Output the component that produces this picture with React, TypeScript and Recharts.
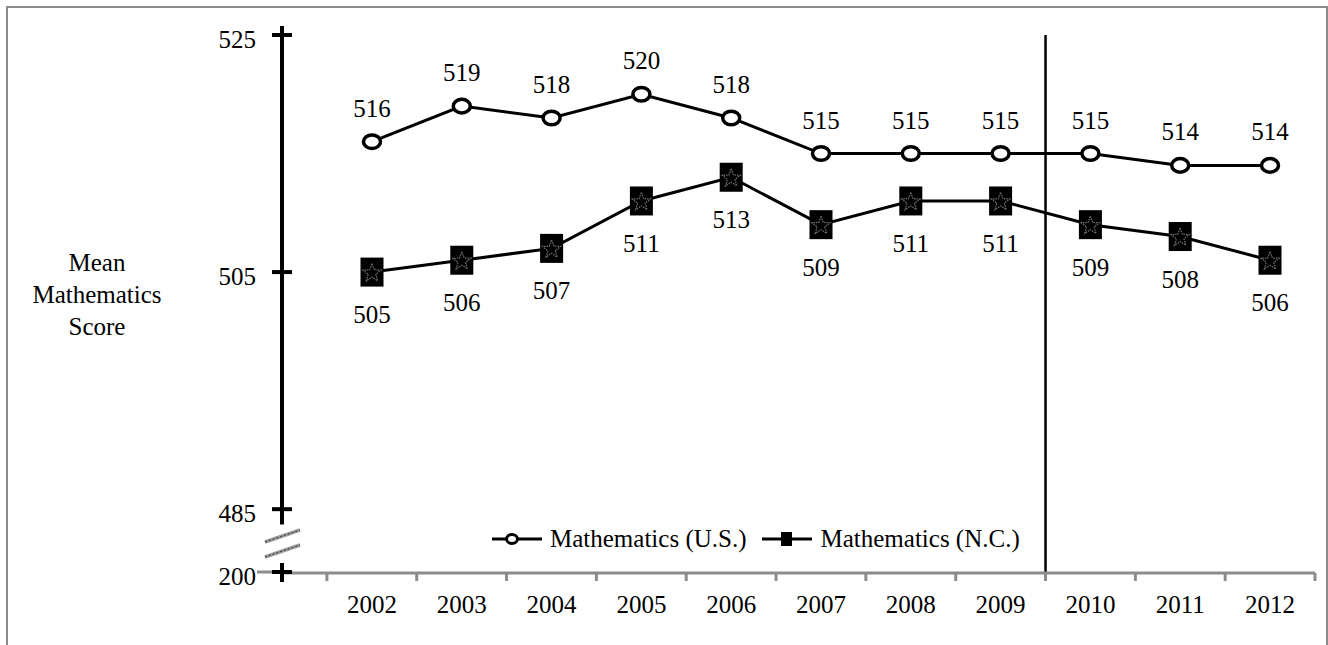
import React from 'react';
import { LineChart, Line, XAxis, YAxis, ReferenceLine, Legend, LabelList } from 'recharts';

const years = ['2002', '2003', '2004', '2005', '2006', '2007', '2008', '2009', '2010', '2011', '2012'];
const usScores = [516, 519, 518, 520, 518, 515, 515, 515, 515, 514, 514];
const ncScores = [505, 506, 507, 511, 513, 509, 511, 511, 509, 508, 506];
const seriesNames = ['Mathematics (U.S.)', 'Mathematics (N.C.)'];

// broken axis: bottom tick stands for 200
const yMin = 479.7;
const yTickValues = [525, 505, 485, yMin];
const yTickLabels = ['525', '505', '485', '200'];
const yAxisBreakEnd = 483.7;

// band edges between the year columns; the divider sits between 2009 and 2010
const bandEdges = [0, 1, 2, 3, 4, 5, 6, 7, 8, 9, 10, 11];
const dividerEdge = 8;

const rows = years.map((year, i) => ({ year, us: usScores[i], nc: ncScores[i] }));

const FONT = '"Liberation Serif", "Times New Roman", serif';
const GRAY = '#8c8c8c';

function starPath(cx: number, cy: number, outer: number, inner: number) {
  const pts: string[] = [];
  for (let i = 0; i < 10; i++) {
    const r = i % 2 === 0 ? outer : inner;
    const a = -Math.PI / 2 + (i * Math.PI) / 5;
    pts.push(`${(cx + r * Math.cos(a)).toFixed(2)},${(cy + r * Math.sin(a)).toFixed(2)}`);
  }
  return 'M' + pts.join('L') + 'Z';
}

function renderUsDot(props: any) {
  const { cx, cy, index } = props;
  return (
    <ellipse key={`us-${index}`} cx={cx} cy={cy} rx={8.5} ry={6.8} fill="#fff" stroke="#000" strokeWidth={3.5} />
  );
}

function renderNcDot(props: any) {
  const { cx, cy, index } = props;
  return (
    <g key={`nc-${index}`}>
      <rect x={cx - 11.5} y={cy - 14.5} width={23} height={29} fill="#000" />
      <path d={starPath(cx, cy + 1, 9.5, 4)} fill="none" stroke="#6e6e6e" strokeWidth={1.3} strokeDasharray="1.5 1" />
    </g>
  );
}

function renderUsLabel(props: any) {
  const { x, y, value, index } = props;
  return (
    <text key={`usl-${index}`} x={x} y={y - 25} textAnchor="middle" fontFamily={FONT} fontSize={25} fill="#000">
      {value}
    </text>
  );
}

function renderNcLabel(props: any) {
  const { x, y, value, index } = props;
  return (
    <text key={`ncl-${index}`} x={x} y={y + 51} textAnchor="middle" fontFamily={FONT} fontSize={25} fill="#000">
      {value}
    </text>
  );
}

function ScoreTick(props: any) {
  const { x, y, payload } = props;
  const idx = yTickValues.indexOf(payload.value);
  const isBreak = payload.value === yMin;
  return (
    <g>
      {isBreak && <line x1={x - 25} y1={y} x2={x} y2={y} stroke={GRAY} strokeWidth={3} />}
      {isBreak && (
        <g>
          <line x1={x - 17} y1={y - 30} x2={x + 18} y2={y - 42} stroke="#9a9a9a" strokeWidth={3.5} />
          <line x1={x - 17} y1={y - 30} x2={x + 18} y2={y - 42} stroke="#333" strokeWidth={1} strokeDasharray="2 2" />
          <line x1={x - 17} y1={y - 15} x2={x + 18} y2={y - 27} stroke="#9a9a9a" strokeWidth={3.5} />
          <line x1={x - 17} y1={y - 15} x2={x + 18} y2={y - 27} stroke="#333" strokeWidth={1} strokeDasharray="2 2" />
        </g>
      )}
      <line x1={x - 10} y1={y} x2={x + 10} y2={y} stroke="#000" strokeWidth={4} />
      <line x1={x} y1={y - 9} x2={x} y2={y + 10} stroke="#000" strokeWidth={4} />
      <text x={x - 26} y={y + 12.5} textAnchor="end" fontFamily={FONT} fontSize={25} fill="#000">
        {yTickLabels[idx]}
      </text>
    </g>
  );
}

function YearTick(props: any) {
  const { x, y, payload } = props;
  return (
    <text x={x} y={y + 41} textAnchor="middle" fontFamily={FONT} fontSize={25} fill="#000">
      {payload.value}
    </text>
  );
}

function renderLegend(props: any) {
  const items = [...(props.payload || [])].sort(
    (a: any, b: any) => seriesNames.indexOf(a.value) - seriesNames.indexOf(b.value)
  );
  return (
    <div style={{ display: 'flex', alignItems: 'center', fontFamily: FONT, fontSize: 25, color: '#000', whiteSpace: 'nowrap' }}>
      {items.map((entry: any, i: number) => (
        <div key={`lg-${i}`} style={{ display: 'flex', alignItems: 'center', marginRight: i === 0 ? 16 : 0 }}>
          <svg width={50} height={20} style={{ display: 'block' }}>
            <line x1={0} y1={10} x2={50} y2={10} stroke="#000" strokeWidth={3} />
            {entry.dataKey === 'us' ? (
              <ellipse cx={20} cy={10} rx={5.5} ry={4.5} fill="#fff" stroke="#000" strokeWidth={3} />
            ) : (
              <rect x={19} y={3} width={11} height={14} fill="#000" />
            )}
          </svg>
          <span style={{ marginLeft: 8 }}>{entry.value}</span>
        </div>
      ))}
    </div>
  );
}

export default function App() {
  return (
    <div style={{ position: 'absolute', left: 0, top: 0, width: 1328, height: 645, background: '#fff', overflow: 'hidden' }}>
      <div
        style={{
          position: 'absolute', left: 6, top: 6, width: 1322, height: 660, boxSizing: 'border-box',
          borderLeft: `2.5px solid ${GRAY}`, borderTop: `2.5px solid ${GRAY}`, borderRight: `2.5px solid ${GRAY}`,
        }}
      />
      <div
        style={{
          position: 'absolute', left: 0, top: 247, width: 194, textAlign: 'center',
          fontFamily: FONT, fontSize: 25, lineHeight: '32px', color: '#000',
        }}
      >
        Mean<br />Mathematics<br />Score
      </div>
      <div style={{ position: 'absolute', left: 0, top: 0 }}>
        <LineChart width={1328} height={645} data={rows} margin={{ top: 35, right: 13, bottom: 71, left: 0 }}>
          <XAxis
            xAxisId="grid"
            dataKey="edge"
            type="number"
            domain={[-0.5, 11]}
            allowDataOverflow
            ticks={bandEdges}
            height={1}
            axisLine={{ stroke: GRAY, strokeWidth: 3 }}
            tickLine={{ stroke: GRAY, strokeWidth: 3 }}
            tickSize={8}
            tick={() => <g />}
            interval={0}
          />
          <XAxis
            xAxisId="cat"
            dataKey="year"
            height={1}
            padding={{ left: 90, right: 45 }}
            axisLine={false}
            tickLine={false}
            tickSize={0}
            tickMargin={0}
            interval={0}
            tick={YearTick}
          />
          <YAxis
            type="number"
            width={282}
            domain={[yMin, 525]}
            allowDataOverflow
            ticks={yTickValues}
            interval={0}
            axisLine={false}
            tickLine={false}
            tickSize={0}
            tickMargin={0}
            tick={ScoreTick}
          />
          <ReferenceLine
            xAxisId="grid"
            segment={[{ x: -0.5, y: 525 }, { x: -0.5, y: yAxisBreakEnd }]}
            stroke="#000"
            strokeWidth={4}
            ifOverflow="visible"
          />
          <ReferenceLine xAxisId="grid" x={dividerEdge} stroke="#000" strokeWidth={2.5} />
          <Line
            xAxisId="cat"
            dataKey="us"
            name={seriesNames[0]}
            stroke="#000"
            strokeWidth={3}
            dot={renderUsDot}
            activeDot={false}
            isAnimationActive={false}
          >
            <LabelList dataKey="us" content={renderUsLabel} />
          </Line>
          <Line
            xAxisId="cat"
            dataKey="nc"
            name={seriesNames[1]}
            stroke="#000"
            strokeWidth={3}
            dot={renderNcDot}
            activeDot={false}
            isAnimationActive={false}
          >
            <LabelList dataKey="nc" content={renderNcLabel} />
          </Line>
          <Legend
            layout="horizontal"
            verticalAlign="middle"
            align="center"
            content={renderLegend}
            wrapperStyle={{ left: 492, top: 525, width: 620 }}
          />
        </LineChart>
      </div>
    </div>
  );
}
